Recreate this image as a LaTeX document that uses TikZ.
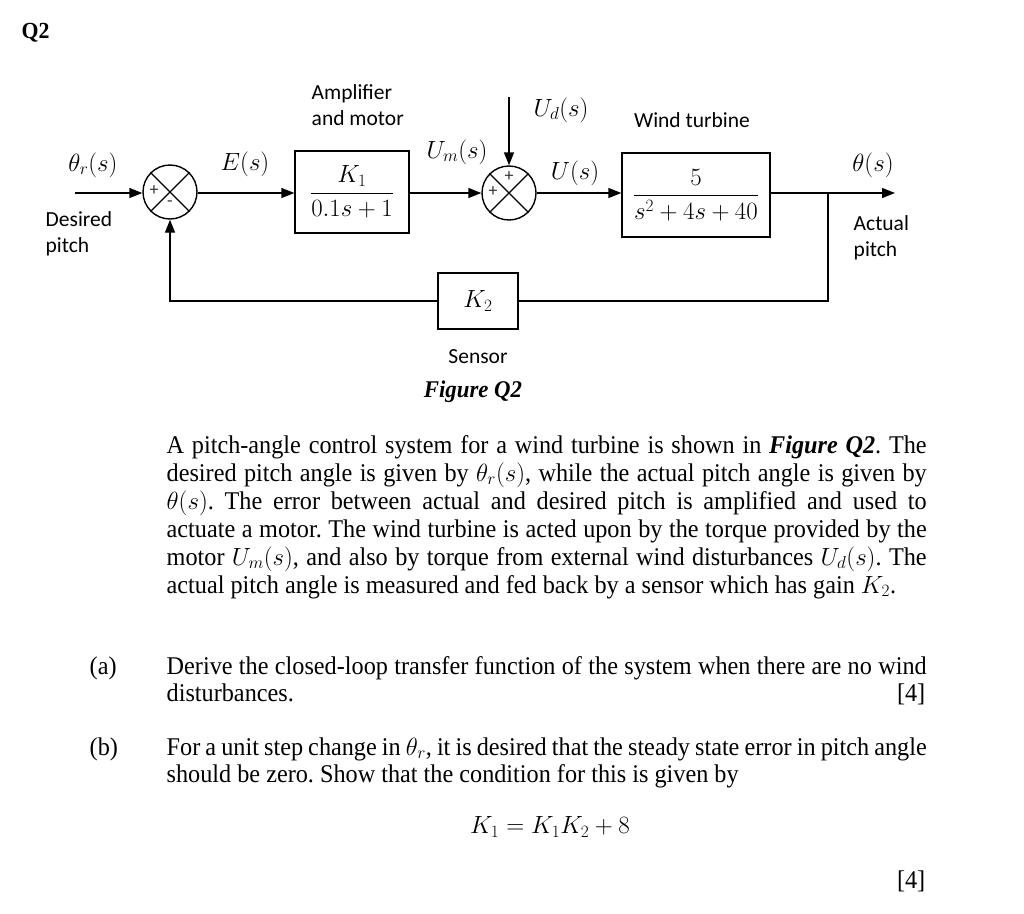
\documentclass[tikz,border=0pt]{standalone}
\usepackage{amsmath}
\usepackage{fontspec}
\setmainfont{Liberation Serif}[FakeStretch=0.95]
\newfontfamily\lab{Carlito}
\usetikzlibrary{arrows.meta}
\frenchspacing
\begin{document}
\begin{tikzpicture}[x=1pt,y=-1pt,line width=1.4pt,
  blk/.style={draw, line width=1.3pt, inner sep=0, font=\fontsize{26.5}{30}\selectfont},
  sumj/.style={draw, circle, minimum size=54pt, inner sep=0},
  arr/.style={-{Triangle[length=13pt,width=10pt]}},
  lbl/.style={font=\fontsize{21.5}{26}\selectfont\lab, align=left, inner sep=0},
  mth/.style={font=\fontsize{24}{26}\selectfont, inner sep=0},
  sgn/.style={font=\fontsize{18}{18}\selectfont\lab, text=black!80, inner sep=0},
  txt/.style={font=\fontsize{25.5}{28}\selectfont, inner sep=0, anchor=base west},
  txtr/.style={font=\fontsize{25.5}{28}\selectfont, inner sep=0, anchor=base east}]
\useasboundingbox (0,0) rectangle (1024,913);

% title
\node[txt, font=\fontsize{23}{28}\selectfont\bfseries] (q) at (21,38) {Q2};

% blocks
\node[sumj] (s1) at (170,192) {};
\draw[line width=1.2pt] (s1.north west) -- (s1.south east) (s1.north east) -- (s1.south west);
\node[sgn] (s1p) at (154,191) {+};
\node[sgn] (s1m) at (170,204) {-};

\node[blk, minimum width=114pt, minimum height=82pt] (b1) at (352,192) {$\dfrac{K_1}{0.1s+1}$};

\node[sumj] (s2) at (509,193) {};
\draw[line width=1.2pt] (s2.north west) -- (s2.south east) (s2.north east) -- (s2.south west);
\node[sgn] (s2t) at (509,177) {+};
\node[sgn] (s2l) at (493,192) {+};

\node[blk, minimum width=148pt, minimum height=84pt] (b2) at (696,195) {$\dfrac{5}{s^2+4s+40}$};

\node[blk, minimum width=80pt, minimum height=56pt, font=\fontsize{25}{28}\selectfont] (k2) at (478,301) {$K_2$};

% connectors
\coordinate (in) at (75,193);
\coordinate (ud) at (509,97);
\coordinate (out) at (895,193);
\coordinate (br) at (828,193);
\draw[arr] (in) -- (s1.west |- in);
\draw[arr] (s1.east |- in) -- (b1.west |- in);
\draw[arr] (b1.east |- in) -- (s2.west);
\draw[arr] (ud) -- (s2.north);
\draw[arr] (s2.east) -- (b2.west |- s2.east);
\draw[arr] (b2.east |- out) -- (out);
\draw (br) |- (k2.east);
\draw[arr] (k2.west) -| (s1.south);

% signal labels
\node[mth] (lthr) at (93,165) {$\theta_r(s)$};
\node[mth] (le) at (245,164) {$E(s)$};
\node[mth] (lum) at (457,152) {$U_m(s)$};
\node[mth] (lud) at (561,110) {$U_d(s)$};
\node[mth] (lu) at (575,173) {$U(s)$};
\node[mth] (lth) at (873,165) {$\theta(s)$};

% block labels
\node[lbl, anchor=west] (lamp) at (311,105) {Amplifier\\and motor};
\node[lbl] (lwt) at (692,120) {Wind turbine};
\node[lbl, anchor=west] (ldes) at (45,234) {Desired\\pitch};
\node[lbl, anchor=west] (lact) at (853,238) {Actual\\pitch};
\node[lbl] (lsen) at (478,357) {Sensor};
\node[inner sep=0, font=\fontsize{24}{26}\selectfont\bfseries\itshape] (fig) at (473,392) {Figure Q2};

% paragraph
\node[txt] (p1) at (166,453) {\hbox to 760pt{A pitch-angle control system for a wind turbine is shown in \textbf{\textit{Figure Q2}}. The}};
\node[txt] (p2) at (166,481) {\hbox to 760pt{desired pitch angle is given by $\theta_r(s)$, while the actual pitch angle is given by}};
\node[txt] (p3) at (166,509) {\hbox to 760pt{$\theta(s)$. The error between actual and desired pitch is amplified and used to}};
\node[txt] (p4) at (166,537) {\hbox to 760pt{actuate a motor. The wind turbine is acted upon by the torque provided by the}};
\node[txt] (p5) at (166,565) {\hbox to 760pt{motor $U_m(s)$, and also by torque from external wind disturbances $U_d(s)$. The}};
\node[txt] (p6) at (166,593) {actual pitch angle is measured and fed back by a sensor which has gain $K_2$.};

% (a)
\node[txt] (a) at (89,674) {(a)};
\node[txt] (a1) at (166,674) {\hbox to 760pt{Derive the closed-loop transfer function of the system when there are no wind}};
\node[txt] (a2) at (166,701) {disturbances.};
\node[txtr] (a3) at (926,701) {[4]};

% (b)
\node[txt] (b) at (89,755) {(b)};
\node[txt] (b1t) at (166,755) {\hbox to 760pt{For a unit step change in $\theta_r$, it is desired that the steady state error in pitch angle}};
\node[txt] (b2t) at (166,782) {should be zero. Show that the condition for this is given by};
\node[inner sep=0, font=\fontsize{27}{30}\selectfont] (eq) at (550,827) {$K_1 = K_1K_2 + 8$};
\node[txtr] (b3) at (926,888) {[4]};
\end{tikzpicture}
\end{document}
